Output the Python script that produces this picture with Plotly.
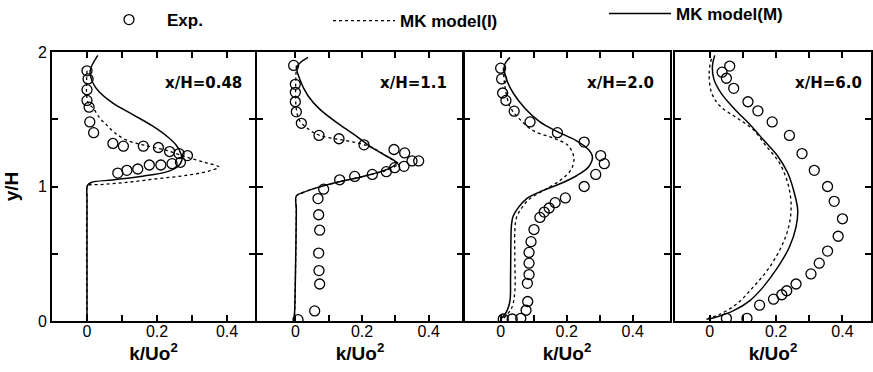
import plotly.graph_objects as go

# ---------------- data ----------------
panel_labels = ["x/H=0.48", "x/H=1.1", "x/H=2.0", "x/H=6.0"]

# Panel 1  x/H = 0.48
exp1_k = [0.0, 0.003, 0.0, 0.0, 0.006, 0.008, 0.019, 0.074, 0.104, 0.161, 0.204, 0.236, 0.263, 0.287,
          0.267, 0.243, 0.211, 0.178, 0.145, 0.114, 0.088]
exp1_y = [1.86, 1.80, 1.72, 1.64, 1.59, 1.48, 1.40, 1.32, 1.30, 1.30, 1.29, 1.26, 1.245, 1.23,
          1.18, 1.17, 1.16, 1.16, 1.13, 1.12, 1.10]
mkM1_k = [0.031, 0.009, 0.017, 0.036, 0.074, 0.131, 0.187, 0.230, 0.254, 0.268, 0.271, 0.258, 0.225,
          0.159, 0.074, 0.012, 0.001, 0.0, 0.0]
mkM1_y = [1.975, 1.86, 1.77, 1.70, 1.62, 1.535, 1.45, 1.37, 1.31, 1.245, 1.195, 1.145, 1.107,
          1.077, 1.049, 1.03, 1.006, 0.905, 0.0]
mkI1_k = [0.0, 0.003, 0.017, 0.036, 0.055, 0.079, 0.112, 0.159, 0.225, 0.282, 0.339, 0.377, 0.348,
          0.282, 0.197, 0.112, 0.036, 0.003, 0.0, 0.0]
mkI1_y = [1.86, 1.62, 1.585, 1.51, 1.46, 1.40, 1.346, 1.31, 1.27, 1.22, 1.177, 1.145, 1.115,
          1.082, 1.057, 1.03, 1.014, 1.006, 0.905, 0.0]

# Panel 2  x/H = 1.1
exp2_k = [-0.005, 0.0, 0.0, 0.0, 0.003, 0.018, 0.071, 0.131, 0.206, 0.296, 0.328, 0.37, 0.35, 0.326,
          0.298, 0.273, 0.231, 0.178, 0.133, 0.085, 0.068, 0.07, 0.073, 0.07, 0.071, 0.073, 0.058, 0.008]
exp2_y = [1.90, 1.76, 1.70, 1.63, 1.555, 1.47, 1.38, 1.355, 1.31, 1.275, 1.25, 1.19, 1.19, 1.15,
          1.14, 1.11, 1.09, 1.075, 1.05, 0.98, 0.91, 0.79, 0.675, 0.505, 0.375, 0.275, 0.075, 0.01]
mkM2_k = [0.038, 0.005, 0.013, 0.038, 0.073, 0.133, 0.183, 0.223, 0.263, 0.303, 0.273, 0.203, 0.123,
          0.063, 0.023, 0.003, 0.003, 0.001, -0.002, -0.004]
mkM2_y = [1.96, 1.89, 1.80, 1.675, 1.575, 1.46, 1.375, 1.30, 1.24, 1.175, 1.125, 1.075, 1.03,
          0.99, 0.955, 0.93, 0.825, 0.45, 0.075, 0.0]
mkI2_k = [0.003, 0.001, 0.003, 0.013, 0.043, 0.073, 0.131, 0.193, 0.238, 0.283, 0.308, 0.273, 0.203,
          0.123, 0.063, 0.023, 0.003, 0.003, 0.001, -0.002, -0.004]
mkI2_y = [1.90, 1.75, 1.575, 1.49, 1.42, 1.38, 1.35, 1.32, 1.28, 1.21, 1.17, 1.12, 1.075,
          1.03, 0.99, 0.955, 0.93, 0.825, 0.45, 0.075, 0.0]

# Panel 3  x/H = 2.0
exp3_k = [0.0, 0.003, 0.006, 0.016, 0.041, 0.089, 0.172, 0.253, 0.303, 0.314, 0.288, 0.253, 0.196,
          0.165, 0.147, 0.132, 0.119, 0.101, 0.092, 0.086, 0.086, 0.086, 0.081, 0.082, 0.077, 0.061,
          0.035, 0.008]
exp3_y = [1.88, 1.80, 1.695, 1.64, 1.56, 1.48, 1.40, 1.33, 1.23, 1.17, 1.09, 1.0, 0.915,
          0.88, 0.84, 0.81, 0.77, 0.68, 0.59, 0.51, 0.43, 0.345, 0.28, 0.145, 0.08, 0.02,
          0.015, 0.015]
mkM3_k = [0.028, 0.011, 0.018, 0.038, 0.074, 0.119, 0.170, 0.230, 0.266, 0.278, 0.266, 0.230, 0.180,
          0.119, 0.079, 0.054, 0.038, 0.033, 0.031, 0.030, 0.028, 0.018, 0.003]
mkM3_y = [1.96, 1.895, 1.795, 1.695, 1.58, 1.48, 1.41, 1.34, 1.275, 1.22, 1.145, 1.08, 1.02,
          0.96, 0.91, 0.845, 0.78, 0.72, 0.57, 0.32, 0.145, 0.07, 0.02]
mkI3_k = [0.008, 0.013, 0.028, 0.054, 0.099, 0.160, 0.202, 0.218, 0.222, 0.212, 0.180, 0.129, 0.084,
          0.061, 0.048, 0.043, 0.043, 0.043, 0.033, 0.008]
mkI3_y = [1.88, 1.745, 1.595, 1.51, 1.415, 1.36, 1.31, 1.25, 1.195, 1.12, 1.045, 0.97, 0.90,
          0.83, 0.77, 0.67, 0.445, 0.22, 0.095, 0.02]

# Panel 4  x/H = 6.0
exp4_k = [0.06, 0.037, 0.05, 0.072, 0.115, 0.145, 0.188, 0.24, 0.278, 0.315, 0.355, 0.375, 0.40,
          0.387, 0.355, 0.33, 0.305, 0.26, 0.232, 0.217, 0.192, 0.15, 0.112, 0.05]
exp4_y = [1.895, 1.85, 1.805, 1.73, 1.63, 1.5625, 1.48, 1.38, 1.245, 1.12, 1.0, 0.89, 0.76,
          0.63, 0.52, 0.43, 0.35, 0.275, 0.225, 0.195, 0.1625, 0.1175, 0.02, 0.02]
mkM4_k = [0.015, 0.008, 0.012, 0.035, 0.075, 0.12, 0.165, 0.205, 0.235, 0.255, 0.265, 0.26, 0.24,
          0.205, 0.16, 0.12, 0.07, 0.02, -0.01]
mkM4_y = [1.975, 1.90, 1.80, 1.69, 1.575, 1.4625, 1.3375, 1.225, 1.10, 0.95, 0.825, 0.70, 0.55,
          0.40, 0.25, 0.15, 0.075, 0.03, 0.0125]
mkI4_k = [0.005, -0.002, 0.005, 0.03, 0.08, 0.13, 0.17, 0.21, 0.235, 0.245, 0.24, 0.22, 0.18,
          0.13, 0.08, 0.03, -0.005]
mkI4_y = [1.95, 1.85, 1.70, 1.60, 1.5125, 1.425, 1.30, 1.175, 1.025, 0.875, 0.725, 0.575, 0.40,
          0.25, 0.125, 0.05, 0.02]

exp_k = [exp1_k, exp2_k, exp3_k, exp4_k]
exp_y = [exp1_y, exp2_y, exp3_y, exp4_y]
mkM_k = [mkM1_k, mkM2_k, mkM3_k, mkM4_k]
mkM_y = [mkM1_y, mkM2_y, mkM3_y, mkM4_y]
mkI_k = [mkI1_k, mkI2_k, mkI3_k, mkI4_k]
mkI_y = [mkI1_y, mkI2_y, mkI3_y, mkI4_y]

x_tickvals = [0, 0.2, 0.4]
x_ticktext = ["0", "0.2", "0.4"]
x_minorvals = [0.1, 0.3]
y_tickvals = [0, 1, 2]
y_ticktext = ["0", "1", "2"]
y_minorvals = [0.5, 1.5]

# ---------------- layout geometry ----------------
W, H = 873, 372
panel_px = [(52, 255), (257, 463), (464, 670), (675, 871)]
x_ranges = [(-0.1, 0.48), (-0.115, 0.503), (-0.111, 0.513), (-0.105, 0.486)]
y_bot_px, y_top_px = 321, 52
ydom = [(H - y_bot_px) / H, (H - y_top_px) / H]

TICKFONT = dict(family="Liberation Sans Narrow, Liberation Sans, Arial", size=16, color="black")
MINOR = dict(ticks="inside", ticklen=6, tickwidth=1.5, tickcolor="black", showgrid=False)

fig = go.Figure()
for i in range(4):
    xa = "x" if i == 0 else f"x{i+1}"
    ya = "y" if i == 0 else f"y{i+1}"
    fig.add_trace(go.Scatter(x=mkI_k[i], y=mkI_y[i], mode="lines", xaxis=xa, yaxis=ya,
                             line=dict(color="black", width=1.3, dash="dot"),
                             name="MK model(I)", showlegend=(i == 0), legend="legend2",
                             line_shape="spline"))
    fig.add_trace(go.Scatter(x=mkM_k[i], y=mkM_y[i], mode="lines", xaxis=xa, yaxis=ya,
                             line=dict(color="black", width=1.5),
                             name="MK model(M)", showlegend=(i == 0), legend="legend3",
                             line_shape="spline"))
    fig.add_trace(go.Scatter(x=exp_k[i], y=exp_y[i], mode="markers", xaxis=xa, yaxis=ya,
                             marker=dict(symbol="circle-open", size=10, color="black",
                                         line=dict(width=1.3, color="black")),
                             name="Exp.", showlegend=(i == 0), legend="legend"))

layout = dict(width=W, height=H, margin=dict(l=0, r=0, t=0, b=0, autoexpand=False),
              paper_bgcolor="white", plot_bgcolor="white", showlegend=True)
for i in range(4):
    xk = "xaxis" if i == 0 else f"xaxis{i+1}"
    yk = "yaxis" if i == 0 else f"yaxis{i+1}"
    ya = "y" if i == 0 else f"y{i+1}"
    xa = "x" if i == 0 else f"x{i+1}"
    l, r = panel_px[i]
    layout[xk] = dict(domain=[l / W, r / W], range=list(x_ranges[i]), anchor=ya,
                      tickvals=x_tickvals, ticktext=x_ticktext, ticks="inside", ticklen=6,
                      tickwidth=1.5, tickcolor="black", showline=True, linewidth=2,
                      linecolor="black", mirror="ticks", showgrid=False, zeroline=False,
                      minor=dict(tickvals=x_minorvals, **MINOR),
                      tickfont=TICKFONT, automargin=False, ticklabelstandoff=-5,
                      title=dict(text="k/Uo<sup>2</sup>", standoff=0,
                                 font=dict(family="Liberation Sans, Arial", size=19,
                                           color="black", weight="bold")))
    layout[yk] = dict(domain=ydom, range=[0, 2], anchor=xa,
                      tickvals=y_tickvals, ticktext=y_ticktext, showticklabels=(i == 0),
                      ticks="inside", ticklen=6, tickwidth=1.5, tickcolor="black",
                      showline=True, linewidth=2, linecolor="black", mirror="ticks",
                      minor=dict(tickvals=y_minorvals, **MINOR),
                      showgrid=False, zeroline=False, tickfont=TICKFONT, automargin=False)
layout["yaxis"]["title"] = dict(text="<b>y/H</b>", standoff=14,
                                font=dict(family="Liberation Sans, Arial", size=19, color="black"))

legfont = dict(family="Liberation Sans, Arial", size=17, color="black", weight="bold")
layout["legend"] = dict(x=91 / W, y=1 - 2 / H, xanchor="left", yanchor="top",
                        font=legfont, itemwidth=66, bgcolor="rgba(0,0,0,0)")
layout["legend2"] = dict(x=328 / W, y=1 - 3 / H, xanchor="left", yanchor="top",
                         font=legfont, itemwidth=62, bgcolor="rgba(0,0,0,0)")
layout["legend3"] = dict(x=604 / W, y=1 + 4 / H, xanchor="left", yanchor="top",
                         font=legfont, itemwidth=62, bgcolor="rgba(0,0,0,0)")

annos = []
label_x = [203, 413, 620, 828]
for i in range(4):
    annos.append(dict(text="<b>" + panel_labels[i] + "</b>", x=label_x[i] / W, y=1 - 83 / H,
                      xref="paper", yref="paper", showarrow=False, xanchor="center",
                      yanchor="middle",
                      font=dict(family="DejaVu Sans, Arial", size=15, color="black")))
layout["annotations"] = annos
fig.update_layout(**layout)
fig.write_html("out.html", post_script="document.body.style.margin='0px';",
               config={"displayModeBar": False})
